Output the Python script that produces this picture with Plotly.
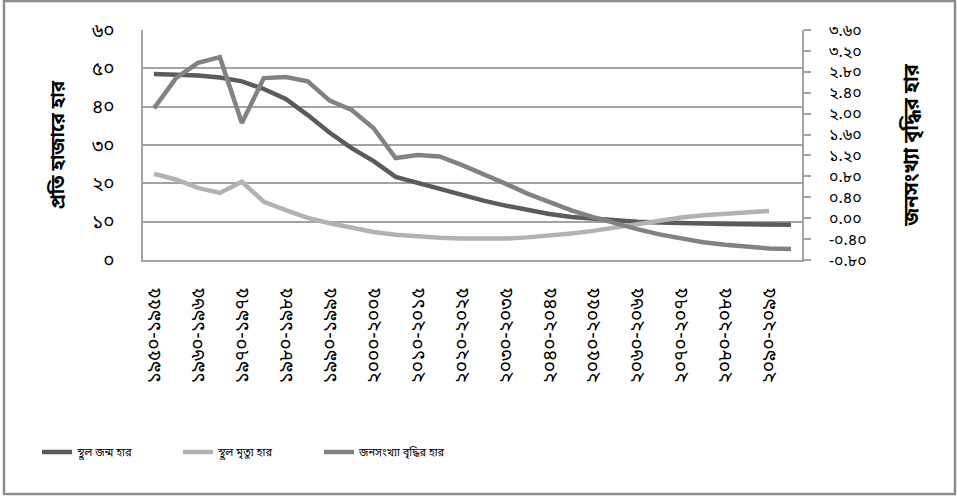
import plotly.graph_objects as go

BN = str.maketrans("0123456789", "০১২৩৪৫৬৭৮৯")

def bn(s):
    return str(s).translate(BN)

start_years = list(range(1950, 2100, 5))
categories = [bn(f"{y}-{y + 5}") for y in start_years]

birth_rate = [48.5, 48.4, 48.1, 47.6, 46.6, 44.6, 42.0, 37.8, 33.2, 29.2,
              25.8, 21.7, 20.1, 18.6, 17.0, 15.5, 14.2, 13.0, 12.0, 11.2,
              10.7, 10.3, 10.0, 9.8, 9.6, 9.5, 9.4, 9.3, 9.3, 9.2]
death_rate = [22.5, 21.0, 18.8, 17.5, 20.4, 15.2, 13.0, 11.0, 9.6, 8.3,
              7.3, 6.6, 6.1, 5.8, 5.6, 5.5, 5.6, 5.9, 6.3, 6.9,
              7.6, 8.5, 9.5, 10.4, 11.1, 11.7, 12.1, 12.5, 12.8, None]
growth_rate = [2.10, 2.68, 2.97, 3.08, 1.82, 2.68, 2.70, 2.62, 2.25, 2.07,
               1.72, 1.15, 1.21, 1.18, 1.02, 0.85, 0.66, 0.47, 0.30, 0.15,
               0.02, -0.10, -0.21, -0.31, -0.39, -0.46, -0.51, -0.55, -0.58, -0.59]

left_ticks = [0, 10, 20, 30, 40, 50, 60]
right_ticks = [-0.8, -0.4, 0.0, 0.4, 0.8, 1.2, 1.6, 2.0, 2.4, 2.8, 3.2, 3.6]

series_names = ["স্থূল জন্ম হার", "স্থূল মৃত্যু হার", "জনসংখ্যা বৃদ্ধির হার"]
left_title = "প্রতি হাজারে হার"
right_title = "জনসংখ্যা বৃদ্ধির হার"

FONT = "'Noto Sans Bengali', 'Noto Serif Bengali', 'Lohit Bengali', 'FreeSerif', sans-serif"
GRID = "#a3a3a3"

fig = go.Figure()
fig.add_trace(go.Scatter(x=categories, y=birth_rate, name=series_names[0], mode="lines",
                         line=dict(color="#5b5b5b", width=4.5)))
fig.add_trace(go.Scatter(x=categories, y=death_rate, name=series_names[1], mode="lines",
                         line=dict(color="#b2b2b2", width=4.5)))
fig.add_trace(go.Scatter(x=categories, y=growth_rate, name=series_names[2], mode="lines",
                         yaxis="y2", line=dict(color="#828282", width=4.5)))

W, H = 957, 496
ML, MR, MT, MB = 143, 155, 30, 236
PW, PH = W - ML - MR, H - MT - MB

fig.update_layout(
    width=W, height=H,
    margin=dict(l=ML, r=MR, t=MT, b=MB, autoexpand=False),
    paper_bgcolor="white", plot_bgcolor="white",
    font=dict(family=FONT, color="black", size=14),
    showlegend=True,
    legend=dict(orientation="h", x=(37 - ML) / PW, xanchor="left",
                y=(MT + PH - 452) / PH, yanchor="middle",
                entrywidth=96, entrywidthmode="pixels",
                font=dict(size=11, family=FONT), bgcolor="rgba(0,0,0,0)"),
    xaxis=dict(
        type="category", categoryorder="array", categoryarray=categories,
        range=[-0.5, len(categories) - 0.5],
        tickvals=categories[::2], ticktext=categories[::2],
        tickangle=-90, tickfont=dict(size=19),
        showgrid=False, showline=True, linecolor=GRID, linewidth=1.5,
        ticks="", ticklabelstandoff=18, zeroline=False,
    ),
    yaxis=dict(
        range=[0, 60], tickvals=left_ticks, ticktext=[bn(v) for v in left_ticks],
        tickfont=dict(size=19), showgrid=True, gridcolor=GRID, gridwidth=1.5,
        showline=True, linecolor=GRID, linewidth=1.5, zeroline=False,
        ticks="", ticklabelstandoff=23,
        title=dict(text=left_title, font=dict(size=19, weight="bold"), standoff=22),
    ),
    yaxis2=dict(
        overlaying="y", side="right",
        range=[-0.8, 3.6], tickvals=right_ticks,
        ticktext=[bn(f"{v:.2f}") for v in right_ticks],
        tickfont=dict(size=16), showgrid=False, zeroline=False,
        showline=True, linecolor=GRID, linewidth=1.5,
        ticks="outside", ticklen=7, tickcolor=GRID, tickwidth=1.5,
        ticklabelstandoff=15,
        title=dict(text=right_title, font=dict(size=20, weight="bold"), standoff=38),
    ),
    shapes=[dict(type="rect", xref="paper", yref="paper",
                 x0=(4 - ML) / PW, x1=(955 - ML) / PW,
                 y0=(MT + PH - 494) / PH, y1=(MT + PH - 1) / PH,
                 line=dict(color="#8c8c8c", width=2.5), fillcolor="rgba(0,0,0,0)",
                 layer="below")],
)

fig.write_html("out.html")
